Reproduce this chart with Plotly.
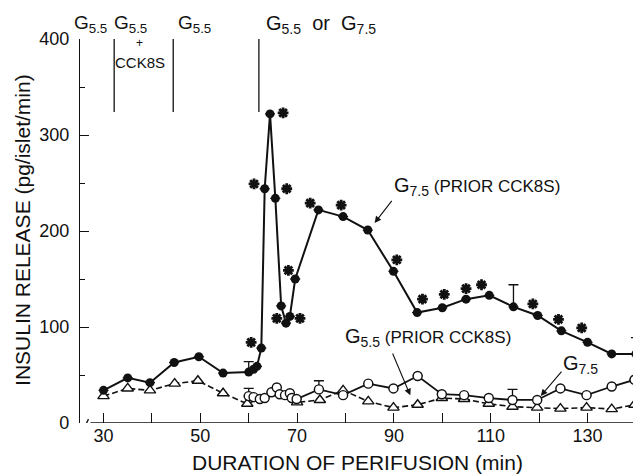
import plotly.graph_objects as go

# G7.5 (prior CCK8S) - filled circles, solid line
t_fill = [30, 35, 39.6, 44.6, 49.7, 54.7, 60, 61, 61.7, 62.6, 63.3, 64.4, 65.5, 66.7, 67.7, 68.5, 69.6,
          74.4, 79.5, 84.6, 89.9, 94.8, 100, 104.9, 109.7, 114.7, 119.7, 124.6, 130, 135, 140]
v_fill = [34, 47, 42, 63, 69, 52, 53, 56, 59, 78, 244, 322, 234, 122, 104, 111, 150,
          222, 215, 201, 158, 115, 120, 129, 133, 121, 112, 96, 84, 72, 72]
e_fill = [0, 0, 0, 0, 0, 0, 11, 0, 0, 0, 0, 0, 0, 0, 0, 0, 0,
          0, 0, 0, 0, 0, 0, 0, 0, 23, 0, 0, 0, 0, 17]

# G7.5 - open circles, solid line
t_open = [60, 61, 62.3, 63.3, 64.7, 65.8, 66.4, 67.5, 68.5, 68.9, 69.9, 74.5, 79.5, 84.7, 89.9,
          94.9, 99.9, 104.5, 109.6, 114.5, 119.6, 124.4, 129.8, 135, 139.7]
v_open = [28, 27, 25, 26, 32, 37, 30, 29, 31, 26, 25, 35, 29, 41, 36,
          49, 30, 29, 26, 24, 24, 36, 29, 38, 45]
e_open = [8, 0, 0, 0, 0, 0, 0, 0, 0, 0, 0, 9, 0, 0, 0,
          0, 0, 0, 0, 11, 0, 0, 0, 0, 0]

# G5.5 (prior CCK8S) - open triangles, dashed line
t_tri = [30, 35, 39.6, 44.7, 49.5, 54.7, 59.7, 65, 70, 74.7, 79.5, 84.7, 89.9, 94.9, 99.9,
         104.5, 109.6, 114.5, 119.6, 124.4, 129.8, 135, 139.7]
v_tri = [28, 36, 34, 41, 44, 31, 20, 31, 21.5, 24, 34, 22.5, 16, 19, 26,
         25, 20, 17, 16, 15, 16, 14.5, 19]

# significance asterisks
t_star = [60.5, 61.1, 67.1, 67.85, 65.8, 70.6, 68.2, 72.7, 79.1, 90.6, 95.9, 100.4, 104.9, 108.1, 118.7, 124, 128.8]
v_star = [84, 249, 323, 244, 109, 109, 159, 229, 227, 170, 129, 134, 140, 144, 124, 108, 99]

# stimulus change times
t_change = [32.2, 44.4, 62.1]

x_ticks = [30, 40, 50, 60, 70, 80, 90, 100, 110, 120, 130, 140]
x_ticktext = ["30", "", "50", "", "70", "", "90", "", "110", "", "130", ""]
y_ticks = [0, 100, 200, 300, 400]

FONT = "Liberation Sans"
BLACK = "#111111"

fig = go.Figure()

fig.add_trace(go.Scatter(
    x=t_tri, y=v_tri, mode="lines+markers",
    line=dict(color=BLACK, width=1.6, dash="6px,3px"),
    marker=dict(symbol="triangle-up", size=10, color="white", line=dict(color=BLACK, width=1.4)),
    cliponaxis=False, showlegend=False))

fig.add_trace(go.Scatter(
    x=t_open, y=v_open, mode="lines+markers",
    line=dict(color=BLACK, width=1.8),
    marker=dict(symbol="circle", size=9, color="white", line=dict(color=BLACK, width=1.4)),
    error_y=dict(type="data", array=e_open, arrayminus=[0] * len(e_open), symmetric=False,
                 color=BLACK, thickness=1.3, width=5),
    cliponaxis=False, showlegend=False))

fig.add_trace(go.Scatter(
    x=t_fill, y=v_fill, mode="lines+markers",
    line=dict(color=BLACK, width=2),
    marker=dict(symbol="circle", size=9, color=BLACK),
    error_y=dict(type="data", array=e_fill, arrayminus=[0] * len(e_fill), symmetric=False,
                 color=BLACK, thickness=1.3, width=5),
    cliponaxis=False, showlegend=False))

fig.add_trace(go.Scatter(
    x=t_star, y=v_star, mode="markers",
    marker=dict(symbol="asterisk-open", size=9, color=BLACK, line=dict(color=BLACK, width=2.8)),
    cliponaxis=False, showlegend=False))

shapes = []
for tc in t_change:
    shapes.append(dict(type="line", xref="x", yref="y", x0=tc, x1=tc, y0=324, y1=400,
                       line=dict(color=BLACK, width=1.3)))
# x-axis baseline with a break near the origin
shapes.append(dict(type="line", xref="x", yref="y", x0=27.3, x1=140.4, y0=0, y1=0,
                   line=dict(color=BLACK, width=1.4)))
shapes.append(dict(type="line", xref="x", yref="y", x0=26.1, x1=26.9, y0=-4, y1=4,
                   line=dict(color=BLACK, width=1.3)))

ann = []
def ptxt(x, y, s, size, xanchor="left", angle=0):
    ann.append(dict(x=x, y=y, xref="paper", yref="paper", text=s, showarrow=False, textangle=angle,
                    xanchor=xanchor, yanchor="middle", font=dict(family=FONT, size=size, color=BLACK)))

def dtxt(x, y, s, size):
    ann.append(dict(x=x, y=y, xref="x", yref="y", text=s, showarrow=False,
                    xanchor="left", yanchor="middle", font=dict(family=FONT, size=size, color=BLACK)))

# stimulus labels above the plot
ptxt(-0.015, 1.038, "G<sub>5.5</sub>", 19)
ptxt(0.057, 1.038, "G<sub>5.5</sub>", 19)
ptxt(0.1075, 0.990, "+", 12, xanchor="center")
ptxt(0.1075, 0.940, "CCK8S", 15, xanchor="center")
ptxt(0.172, 1.038, "G<sub>5.5</sub>", 19)
ptxt(0.330, 1.038, "G<sub>5.5</sub>  or  G<sub>7.5</sub>", 20)

# axis titles
ptxt(-0.102, 0.503, "INSULIN RELEASE (pg/islet/min)", 21, xanchor="center", angle=-90)
ptxt(0.498, -0.102, "DURATION OF PERIFUSION (min)", 21, xanchor="center")

# series labels
dtxt(89.6, 246, "G<sub>7.5</sub><span style='font-size:17px'> (PRIOR CCK8S)</span>", 20)
dtxt(79.5, 89, "G<sub>5.5</sub><span style='font-size:17px'> (PRIOR CCK8S)</span>", 20)
dtxt(124.6, 61, "G<sub>7.5</sub>", 20)

def arrow(x0, y0, x1, y1):
    ann.append(dict(x=x1, y=y1, ax=x0, ay=y0, xref="x", yref="y", axref="x", ayref="y",
                    text="", showarrow=True, arrowhead=2, arrowsize=1.2, arrowwidth=1.1,
                    arrowcolor=BLACK, standoff=4))

arrow(89.8, 233, 85.5, 205)
arrow(89.6, 74, 93.7, 25)
arrow(124.9, 55, 119.8, 25)

# the page body adds an 8px offset; size the figure so it fits the 641x476 window
fig.update_layout(
    width=633, height=468,
    margin=dict(l=72, r=3, t=31, b=53),
    paper_bgcolor="white", plot_bgcolor="white",
    font=dict(family=FONT, size=16, color=BLACK),
    shapes=shapes, annotations=ann,
    xaxis=dict(range=[25.14, 140.43], showgrid=False, zeroline=False, showline=False,
               automargin=False,
               tickvals=x_ticks, ticktext=x_ticktext, ticks="inside", ticklen=10,
               tickwidth=1.3, tickcolor=BLACK, tickfont=dict(family=FONT, size=18)),
    yaxis=dict(range=[0, 400], showgrid=False, zeroline=False, showline=True, linecolor=BLACK,
               automargin=False,
               linewidth=1.4, tickvals=y_ticks, ticks="inside", ticklen=9, tickwidth=1.3,
               tickcolor=BLACK, tickfont=dict(family=FONT, size=18), ticklabelstandoff=6,
               minor=dict(tickvals=[50, 150, 250, 350], ticks="inside", ticklen=5,
                          tickwidth=1.1, tickcolor=BLACK)),
)

fig.write_html("out.html")
